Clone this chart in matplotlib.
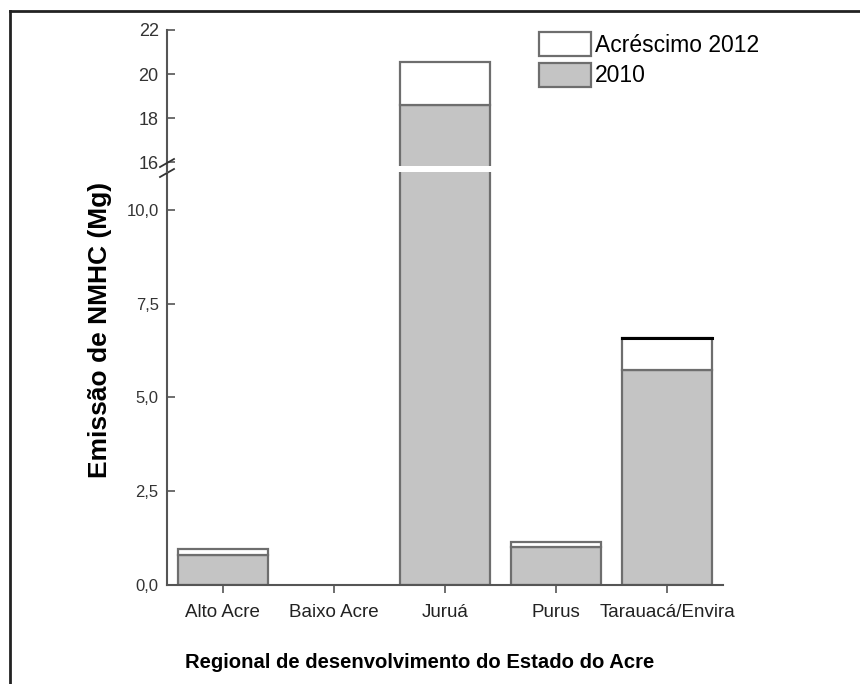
import matplotlib
matplotlib.use("Agg")
import matplotlib.pyplot as plt
from matplotlib.lines import Line2D
from matplotlib.patches import Patch

regions = ["Alto Acre", "Baixo Acre", "Juruá", "Purus", "Tarauacá/Envira"]
emis_2010 = [0.80, 0.0, 18.6, 1.00, 5.72]
emis_2012 = [0.95, 0.0, 20.55, 1.15, 6.58]
acrescimo = [b - a for a, b in zip(emis_2010, emis_2012)]

low_ticks = [0, 2.5, 5.0, 7.5, 10.0]
high_ticks = [16, 18, 20, 22]

plt.rcParams['font.family'] = ['Liberation Sans', 'DejaVu Sans']

W, H = 860, 684
fig = plt.figure(figsize=(W / 100, H / 100), dpi=100)

def box(x0, y0, x1, y1):
    # pixel box (top-left origin) -> figure fraction
    return [x0 / W, 1 - y1 / H, (x1 - x0) / W, (y1 - y0) / H]

ax_hi = fig.add_axes(box(167, 30, 723, 166))
ax_lo = fig.add_axes(box(167, 172, 723, 585))

gray = "#c4c4c4"
edge = "#6e6e6e"
x = range(len(regions))
for ax in (ax_hi, ax_lo):
    b1 = ax.bar(x, emis_2010, width=0.81, color=gray, edgecolor=edge, linewidth=1.6)
    b2 = ax.bar(x, acrescimo, bottom=emis_2010, width=0.81, color="white",
                edgecolor=edge, linewidth=1.6)
    # empty regions show no outline
    for p, v in zip(list(b1) + list(b2), emis_2010 + acrescimo):
        if v == 0:
            p.set_linewidth(0)
    ax.set_xlim(-0.5, 4.5)
    for s in ("top", "right"):
        ax.spines[s].set_visible(False)
    ax.spines["left"].set_color("#555555")
    ax.spines["left"].set_linewidth(1.5)
    ax.tick_params(axis="y", direction="in", length=6, width=1.2,
                   color="#555555", labelsize=12, labelcolor="#333333", pad=6)

# black top edge on Tarauaca bar
ax_lo.plot([4 - 0.405, 4 + 0.405], [emis_2012[4], emis_2012[4]], color="black", lw=2.2)

ax_hi.set_ylim(15.82, 22)
ax_hi.set_yticks(high_ticks)
ax_hi.set_yticklabels([str(t) for t in high_ticks], fontsize=13)
ax_hi.spines["bottom"].set_visible(False)
ax_hi.set_xticks([])

ax_lo.set_ylim(0, 11.01)
ax_lo.set_yticks(low_ticks)
ax_lo.set_yticklabels([f"{t:.1f}".replace(".", ",") for t in low_ticks])
ax_lo.set_xticks(list(x))
ax_lo.set_xticklabels(regions, fontsize=13.5, color="#222222")
ax_lo.spines["bottom"].set_color("#555555")
ax_lo.spines["bottom"].set_linewidth(1.5)
ax_lo.tick_params(axis="x", direction="out", length=6, width=1.2, color="#555555", pad=8)

# axis break marks
for yy in (163, 173):
    fig.add_artist(Line2D([160 / W, 174 / W], [1 - (yy + 4) / H, 1 - (yy - 4) / H],
                          color="#333333", lw=1.3))
fig.add_artist(Line2D([167 / W, 167 / W], [1 - 172 / H, 1 - 166 / H], color="#555555", lw=1.5))

fig.text(100 / W, 1 - 330 / H, "Emissão de NMHC (Mg)", rotation=90, fontsize=19,
         fontweight="bold", ha="center", va="center")
fig.text(420 / W, 1 - 662 / H, "Regional de desenvolvimento do Estado do Acre", fontsize=14.6,
         fontweight="bold", ha="center", va="center")

handles = [Patch(facecolor="white", edgecolor=edge, lw=1.6, label="Acréscimo 2012"),
           Patch(facecolor=gray, edgecolor=edge, lw=1.6, label="2010")]
fig.legend(handles=handles, loc="upper left", bbox_to_anchor=(539 / W, 1 - 32 / H),
           frameon=False, fontsize=16.5, handlelength=2.25, handleheight=1.25,
           handletextpad=0.2, borderpad=0, borderaxespad=0, labelspacing=0.25)

# outer frame (top and left)
fig.add_artist(Line2D([10 / W, 1], [1 - 11 / H, 1 - 11 / H], color="#222222", lw=2))
fig.add_artist(Line2D([10 / W, 10 / W], [0, 1 - 11 / H], color="#222222", lw=2))

fig.savefig("out.png", dpi=100)
